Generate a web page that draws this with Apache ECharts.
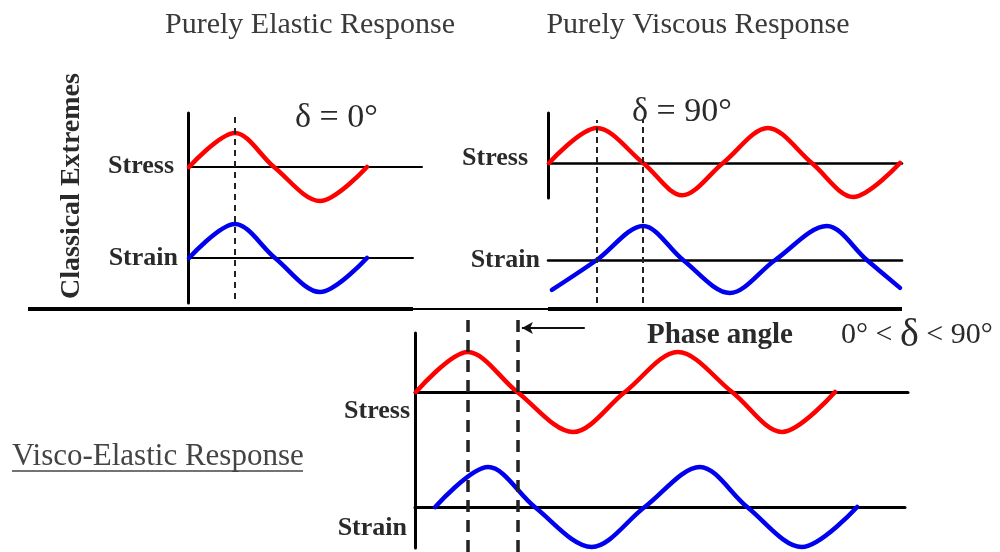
<!DOCTYPE html>
<html>
<head>
<meta charset="utf-8">
<script src="https://cdn.jsdelivr.net/npm/echarts@6/dist/echarts.min.js"></script>
<style>
  html, body { margin: 0; padding: 0; background: #fff; }
  #chart { width: 1000px; height: 552px; }
</style>
</head>
<body>
<div id="chart"></div>
<script>
// phase (degrees) vs normalised amplitude
const elasticStress = [[0, 0], [93, 1], [172, 0], [265, -1], [360, 0]]
const elasticStrain = [[0, 0], [93, 1], [174, 0], [265, -1], [360, 0]]
const elasticGuides = [93]

const viscousStress = [[0, 0], [98, 1], [193, 0], [273, -0.92], [357, 0], [449, 1], [539, 0], [624, -0.97], [720, 0]]
const viscousStrain = [[6, -0.88], [98, 0], [193, 1], [275, 0], [371, -0.97], [464, 0], [570, 1], [652, 0], [720, -0.82]]
const viscousGuides = [98, 193]

const viscoStress = [[0, 0], [89, 1], [174, 0], [270, -1], [359, 0], [450, 1], [543, 0], [629, -1], [720, 0]]
const viscoStrain = [[33, 0], [124, 1], [204, 0], [302, -1], [393, 0], [488, 1], [569, 0], [663, -1], [758, 0]]
const viscoGuides = [89, 175]
const phaseArrow = [290, 182]

const RED = '#ff0000'
const BLUE = '#0000ee'
const SERIF = '"Liberation Serif", "DejaVu Serif", serif'

// layout of the three panels (pixels)
const panels = [
  {
    origin: 189, k: 0.4944,
    axis: {x: 188, top: 113, bottom: 303},
    guide: {top: 117, bottom: 299, width: 2, dash: [6, 5]},
    rows: [
      {baseline: 167, amp: 34, right: 422, line: 2, data: elasticStress, color: RED},
      {baseline: 258, amp: 34, right: 413, line: 2, data: elasticStrain, color: BLUE},
    ],
    guides: elasticGuides,
  },
  {
    origin: 549, k: 0.4875,
    axis: {x: 548, top: 113, bottom: 198},
    guide: {top: 120, bottom: 303, width: 2, dash: [6, 4]},
    rows: [
      {baseline: 163, amp: 35, right: 902, line: 2.5, data: viscousStress, color: RED},
      {baseline: 260, amp: 34, right: 902, line: 2.5, data: viscousStrain, color: BLUE},
    ],
    guides: viscousGuides,
  },
  {
    origin: 416, k: 0.582,
    axis: {x: 415, top: 333, bottom: 548},
    guide: {top: 318, bottom: 552, width: 3.5, dash: [12, 8]},
    rows: [
      {baseline: 392, amp: 40, right: 908, line: 3, data: viscoStress, color: RED},
      {baseline: 507, amp: 40, right: 905, line: 3, data: viscoStrain, color: BLUE},
    ],
    guides: viscoGuides,
    arrow: phaseArrow,
  },
]

const grids = []
const xAxes = []
const yAxes = []
const series = []

const hidden = {show: false}

const addGrid = (left, top, width, height, xRange, yRange, xLine, yLine) => {
  const i = grids.length
  grids.push({left, top, width, height})
  xAxes.push({
    gridIndex: i, type: 'value', min: xRange[0], max: xRange[1],
    axisLine: xLine ? {show: true, onZero: true, lineStyle: {color: '#000', width: xLine}} : hidden,
    axisTick: hidden, axisLabel: hidden, splitLine: hidden,
  })
  yAxes.push({
    gridIndex: i, type: 'value', min: yRange[0], max: yRange[1],
    axisLine: yLine ? {show: true, onZero: false, lineStyle: {color: '#000', width: yLine}} : hidden,
    axisTick: hidden, axisLabel: hidden, splitLine: hidden,
  })
  return i
}

panels.forEach(p => {
  const toDeg = (px) => (px - p.origin) / p.k

  // vertical axis
  addGrid(p.axis.x, p.axis.top, 10, p.axis.bottom - p.axis.top, [0, 1], [0, 1], 0, 3)

  // stress / strain rows
  p.rows.forEach(r => {
    const i = addGrid(p.axis.x, r.baseline - r.amp, r.right - p.axis.x, r.amp * 2,
      [toDeg(p.axis.x), toDeg(r.right)], [-1, 1], r.line, 0)
    series.push({
      type: 'line', xAxisIndex: i, yAxisIndex: i,
      data: r.data, smooth: 0.33,
      symbol: 'none', clip: false, silent: true,
      lineStyle: {color: r.color, width: 4.5, cap: 'round', join: 'round'},
    })
  })

  // dashed guides (and the phase-angle arrow)
  const right = p.rows[0].right
  const g = addGrid(p.axis.x, p.guide.top, right - p.axis.x, p.guide.bottom - p.guide.top,
    [toDeg(p.axis.x), toDeg(right)], [0, 1], 0, 0)
  const marks = p.guides.map(v => ({xAxis: v}))
  series.push({
    type: 'line', xAxisIndex: g, yAxisIndex: g, data: [],
    markLine: {
      symbol: 'none', silent: true, label: hidden,
      lineStyle: {color: '#222', width: p.guide.width, type: p.guide.dash},
      data: marks,
    },
  })
  if (p.arrow) {
    const y = (p.guide.bottom - 328) / (p.guide.bottom - p.guide.top)
    series.push({
      type: 'line', xAxisIndex: g, yAxisIndex: g, data: [],
      markLine: {
        symbol: ['none', 'arrow'], symbolSize: [9, 11], silent: true, label: hidden,
        lineStyle: {color: '#111', width: 2, type: 'solid'},
        data: [[{coord: [p.arrow[0], y]}, {coord: [p.arrow[1], y]}]],
      },
    })
  }
})

const txt = (text, x, y, font, align, extra, fill) => Object.assign({
  type: 'text', x, y,
  style: {text, font, fill: fill || '#2a2a2a', align, verticalAlign: 'middle'},
}, extra || {})

const graphic = [
  txt('Purely Elastic Response', 310, 25, '30px ' + SERIF, 'center', null, '#3a3a3a'),
  txt('Purely Viscous Response', 698, 25, '30px ' + SERIF, 'center', null, '#3a3a3a'),
  txt('Classical Extremes', 72, 186, 'bold 28px ' + SERIF, 'center', {rotation: Math.PI / 2}),
  txt('Stress', 174, 166, 'bold 26px ' + SERIF, 'right'),
  txt('Strain', 178, 258, 'bold 26px ' + SERIF, 'right'),
  txt('Stress', 528, 158, 'bold 26px ' + SERIF, 'right'),
  txt('Strain', 540, 260, 'bold 26px ' + SERIF, 'right'),
  txt('Stress', 410, 411, 'bold 26px ' + SERIF, 'right'),
  txt('Strain', 407, 528, 'bold 26px ' + SERIF, 'right'),
  txt('δ = 0°', 295, 118, '34px ' + SERIF, 'left'),
  txt('δ = 90°', 632, 112, '34px ' + SERIF, 'left'),
  txt('Phase angle', 647, 336, 'bold 29px ' + SERIF, 'left'),
  {
    type: 'text', x: 841, y: 335,
    style: {
      text: '{n|0° < }{d|δ}{n| < 90°}',
      fill: '#2a2a2a', align: 'left', verticalAlign: 'middle',
      rich: {
        n: {font: '30px ' + SERIF, fill: '#2a2a2a'},
        d: {font: '40px ' + SERIF, fill: '#2a2a2a'},
      },
    },
  },
  txt('Visco-Elastic Response', 12, 457, '31px ' + SERIF, 'left', null, '#444'),
  {type: 'line', shape: {x1: 12, y1: 471, x2: 303, y2: 471}, style: {stroke: '#444', lineWidth: 1.5}},
  // divider under the classical extremes
  {type: 'line', shape: {x1: 28, y1: 309, x2: 413, y2: 309}, style: {stroke: '#000', lineWidth: 4}},
  {type: 'line', shape: {x1: 413, y1: 309, x2: 548, y2: 309}, style: {stroke: '#000', lineWidth: 2}},
  {type: 'line', shape: {x1: 548, y1: 309, x2: 902, y2: 309}, style: {stroke: '#000', lineWidth: 4}},
]

const chart = echarts.init(document.getElementById('chart'), null, {renderer: 'canvas'})
chart.setOption({
  animation: false,
  backgroundColor: '#fff',
  grid: grids,
  xAxis: xAxes,
  yAxis: yAxes,
  series,
  graphic,
})
</script>
</body>
</html>
